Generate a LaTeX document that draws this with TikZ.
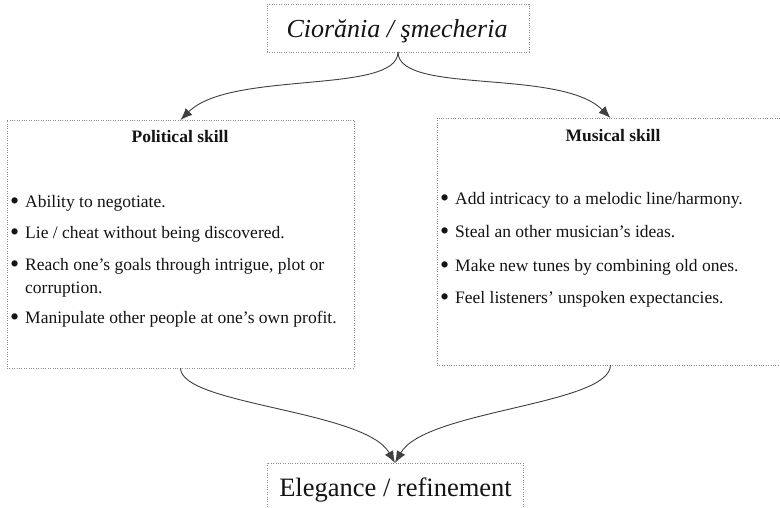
\documentclass[tikz,border=0pt]{standalone}
\usepackage{fontspec}
\setmainfont{Liberation Serif}
\usetikzlibrary{arrows.meta}
\tikzset{
  frame/.style={draw=black!45, dash pattern=on 1pt off 1.4pt, line width=0.8pt, inner sep=0pt, outer sep=0pt},
  body/.style={font=\fontsize{17.5}{23}\selectfont, text=black!92, inner sep=0pt, anchor=base west},
  head/.style={font=\fontsize{17.5}{23}\selectfont\bfseries, text=black!92, inner sep=0pt, anchor=base},
  link/.style={draw=black!75, line width=0.9pt, -{Latex[length=12pt,width=9.5pt]}},
}
\newcommand{\bul}[1]{\makebox[15pt][l]{\raisebox{-2pt}{\fontsize{26}{26}\selectfont\textbullet}}#1}
\begin{document}
\begin{tikzpicture}[x=1pt,y=-1pt]
\clip (0,0) rectangle (780,507);
\fill[white] (0,0) rectangle (780,507);
% boxes
\node[frame, minimum width=262pt, minimum height=48pt] (top) at (398,28) {};
\node[frame, minimum width=347pt, minimum height=248pt] (left) at (180.5,244) {};
\node[frame, minimum width=347pt, minimum height=247pt] (right) at (610.5,241.5) {};
\node[frame, minimum width=256pt, minimum height=52pt] (bot) at (395,489) {};
% main texts
\node[inner sep=0pt, anchor=base, font=\fontsize{26}{30}\selectfont\itshape, text=black!92] (toptxt) at (397,37) {Ciorănia / şmecheria};
\node[inner sep=0pt, anchor=base, font=\fontsize{26.5}{30}\selectfont, text=black!92] (bottxt) at (395.5,496) {Elegance / refinement};
% left box
\node[head] (lhead) at (180,142) {Political skill};
\node[body] (l1) at (10,207) {\bul{Ability to negotiate.}};
\node[body] (l2) at (10,238) {\bul{Lie / cheat without being discovered.}};
\node[body] (l3) at (10,270) {\bul{Reach one’s goals through intrigue, plot or}};
\node[body] (l3b) at (25,293) {corruption.};
\node[body] (l4) at (10,323) {\bul{Manipulate other people at one’s own profit.}};
% right box
\node[head] (rhead) at (613,141) {Musical skill};
\node[body] (r1) at (440,204) {\bul{Add intricacy to a melodic line/harmony.}};
\node[body] (r2) at (440,237) {\bul{Steal an other musician’s ideas.}};
\node[body] (r3) at (440,271) {\bul{Make new tunes by combining old ones.}};
\node[body] (r4) at (440,303) {\bul{Feel listeners’ unspoken expectancies.}};
% connectors
\draw[link] (top.south) .. controls +(0,43) and +(50,-50) .. (left.north);
\draw[link] (top.south) .. controls +(0,43) and +(-50,-50) .. (right.north);
\draw[link] (left.south) .. controls +(0,37) and +(-30,-53) .. (bot.north);
\draw[link] (right.south) .. controls +(0,40) and +(30,-53) .. (bot.north);
\end{tikzpicture}
\end{document}
